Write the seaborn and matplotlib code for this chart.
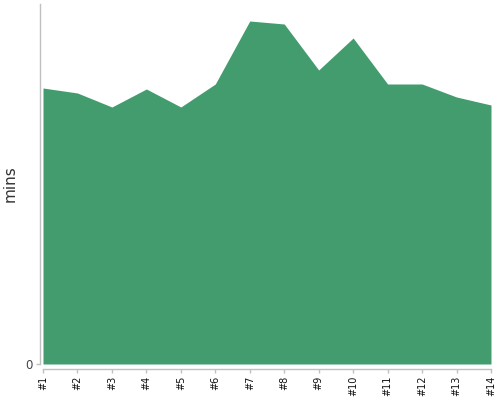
import pandas as pd
import seaborn as sns
import matplotlib.pyplot as plt

sns.set_theme(style="white")
plt.rcParams['font.family'] = ['DejaVu Sans']

labels = ["#1", "#2", "#3", "#4", "#5", "#6", "#7", "#8", "#9", "#10", "#11", "#12", "#13", "#14"]
mins = [27.6, 27.1, 25.7, 27.5, 25.7, 28.0, 34.3, 34.0, 29.4, 32.6, 28.0, 28.0, 26.7, 25.9]

df = pd.DataFrame({"run": labels, "mins": mins})
df["pos"] = range(len(df))

fig = plt.figure(figsize=(5, 4), dpi=100)
ax = fig.add_axes([43/500, 1 - 364/400, 448/500, 360/400])

green = "#439C6D"
ax.fill_between(df.pos, df.mins, color=green, lw=0)

ax.set_xlim(0, len(df) - 1)
ax.set_ylim(0, 36)
ax.set_xticks(df.pos, df.run)
ax.set_yticks([0], ["0"])
ax.set_xlabel("")
ax.set_ylabel("mins", fontsize=11, color="#333333")
ax.yaxis.set_label_coords(-25/448, 0.5)

sns.despine(ax=ax)
ax.spines["left"].set_position(("outward", 2.2))
ax.spines["bottom"].set_position(("outward", 3.6))
for s in ["left", "bottom"]:
    ax.spines[s].set_color("#c0c0c0")
    ax.spines[s].set_linewidth(1)
ax.tick_params(axis="both", length=3, width=1, color="#c0c0c0", pad=2, bottom=True, left=True)
ax.tick_params(axis="x", labelrotation=90, labelsize=7, labelcolor="#111111")
ax.tick_params(axis="y", labelsize=8.5, labelcolor="#444444")

fig.savefig("out.png", dpi=100)
